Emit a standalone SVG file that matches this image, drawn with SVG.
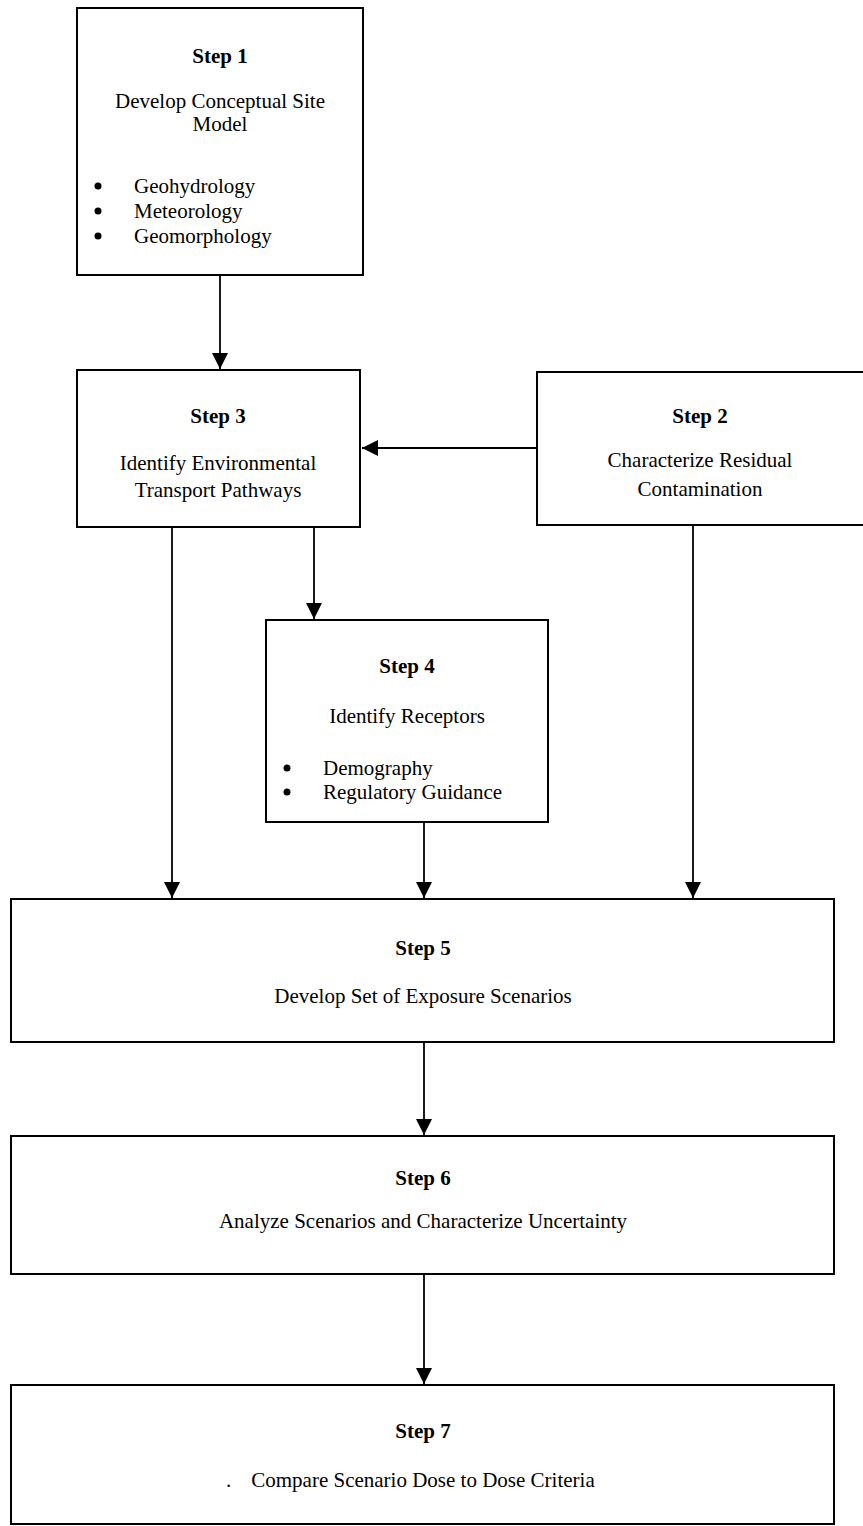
<svg xmlns="http://www.w3.org/2000/svg" width="863" height="1526" viewBox="0 0 863 1526">
<style>
.box{fill:#fff;stroke:#000;stroke-width:2}
.t{font-family:"Liberation Serif","Times New Roman",serif;font-size:21px;fill:#000}
.c{text-anchor:middle}
.b{font-weight:bold}
.dot{fill:#000}
.ln{stroke:#000;stroke-width:1.8;fill:none}
</style>
<defs>
<marker id="ah" markerUnits="userSpaceOnUse" markerWidth="17" markerHeight="17" refX="16" refY="8" orient="auto">
<path d="M0,0 L16,8 L0,16 z" fill="#000"/>
</marker>
</defs>
<rect width="863" height="1526" fill="#fff"/>
<g id="connectors">
<line class="ln" x1="220" y1="275" x2="220" y2="369" marker-end="url(#ah)"/>
<line class="ln" x1="537" y1="448" x2="362" y2="448" marker-end="url(#ah)"/>
<line class="ln" x1="172" y1="527" x2="172" y2="898" marker-end="url(#ah)"/>
<line class="ln" x1="314" y1="527" x2="314" y2="619" marker-end="url(#ah)"/>
<line class="ln" x1="424" y1="822" x2="424" y2="898" marker-end="url(#ah)"/>
<line class="ln" x1="693" y1="525" x2="693" y2="898" marker-end="url(#ah)"/>
<line class="ln" x1="424" y1="1042" x2="424" y2="1135" marker-end="url(#ah)"/>
<line class="ln" x1="424" y1="1274" x2="424" y2="1384" marker-end="url(#ah)"/>
</g>
<g id="step1">
<rect class="box" x="77" y="8" width="286" height="267"/>
<text class="t c b" x="220" y="63">Step 1</text>
<text class="t c" x="220" y="108">Develop Conceptual Site</text>
<text class="t c" x="220" y="131">Model</text>
<circle class="dot" cx="98" cy="186" r="3.5"/>
<text class="t" x="134" y="193">Geohydrology</text>
<circle class="dot" cx="98" cy="211" r="3.5"/>
<text class="t" x="134" y="218">Meteorology</text>
<circle class="dot" cx="98" cy="236" r="3.5"/>
<text class="t" x="134" y="243">Geomorphology</text>
</g>
<g id="step3">
<rect class="box" x="77" y="370" width="283" height="157"/>
<text class="t c b" x="218" y="423">Step 3</text>
<text class="t c" x="218" y="470">Identify Environmental</text>
<text class="t c" x="218" y="497">Transport Pathways</text>
</g>
<g id="step2">
<rect class="box" x="537" y="372" width="340" height="153"/>
<text class="t c b" x="700" y="423">Step 2</text>
<text class="t c" x="700" y="467">Characterize Residual</text>
<text class="t c" x="700" y="496">Contamination</text>
</g>
<g id="step4">
<rect class="box" x="266" y="620" width="282" height="202"/>
<text class="t c b" x="407" y="673">Step 4</text>
<text class="t c" x="407" y="723">Identify Receptors</text>
<circle class="dot" cx="287" cy="768" r="3.5"/>
<text class="t" x="323" y="775">Demography</text>
<circle class="dot" cx="287" cy="792" r="3.5"/>
<text class="t" x="323" y="799">Regulatory Guidance</text>
</g>
<g id="step5">
<rect class="box" x="11" y="899" width="823" height="143"/>
<text class="t c b" x="423" y="955">Step 5</text>
<text class="t c" x="423" y="1003">Develop Set of Exposure Scenarios</text>
</g>
<g id="step6">
<rect class="box" x="11" y="1136" width="823" height="138"/>
<text class="t c b" x="423" y="1185">Step 6</text>
<text class="t c" x="423" y="1228">Analyze Scenarios and Characterize Uncertainty</text>
</g>
<g id="step7">
<rect class="box" x="11" y="1385" width="823" height="139"/>
<text class="t c b" x="423" y="1438">Step 7</text>
<text class="t" x="226" y="1487">.</text>
<text class="t c" x="423" y="1487">Compare Scenario Dose to Dose Criteria</text>
</g>
</svg>
